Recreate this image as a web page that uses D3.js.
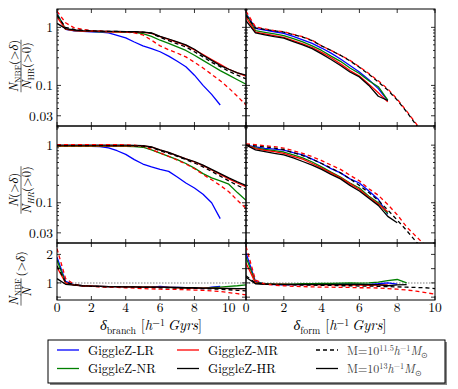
<!DOCTYPE html>
<html>
<head>
<meta charset="utf-8">
<script src="https://cdn.jsdelivr.net/npm/d3@7/dist/d3.min.js"></script>
<style>
  body { margin: 0; background: #fff; }
</style>
</head>
<body>
<div id="chart"></div>
<script>
// ---- data ----
const branchGrid = d3.range(0, 11.01, 0.5);   // delta_branch, 0..11
const formGrid = d3.range(0, 10.01, 0.5);     // delta_form, 0..10

const xTicks = [0, 2, 4, 6, 8, 10];
const logTickLabels = [1, 0.1, 0.03];
const ratioTickLabels = [1, 2];

// N_NBF(>delta) / N_HR(>0), branch
const nbfBranch = {
  LR:   [1.75, 0.92, 0.87, 0.85, 0.84, 0.83, 0.80, 0.73, 0.66, 0.56, 0.48, 0.43, 0.38, 0.32, 0.26, 0.21, 0.15, 0.10, 0.07, 0.046],
  NR:   [1.7, 0.93, 0.88, 0.86, 0.85, 0.84, 0.84, 0.83, 0.83, 0.82, 0.78, 0.70, 0.60, 0.53, 0.46, 0.40, 0.33, 0.27, 0.22, 0.18, 0.15, 0.125, 0.105],
  MR:   [1.5, 0.93, 0.88, 0.86, 0.85, 0.85, 0.84, 0.84, 0.84, 0.83, 0.82, 0.79, 0.69, 0.62, 0.55, 0.49, 0.41, 0.34, 0.28, 0.23, 0.19, 0.165, 0.145],
  HR:   [1.17, 0.95, 0.90, 0.88, 0.87, 0.86, 0.85, 0.85, 0.84, 0.84, 0.83, 0.80, 0.70, 0.63, 0.56, 0.50, 0.42, 0.33, 0.27, 0.22, 0.19, 0.165, 0.15],
  MR_d: [1.9, 1.2, 0.98, 0.92, 0.88, 0.86, 0.85, 0.84, 0.83, 0.80, 0.74, 0.60, 0.48, 0.41, 0.36, 0.31, 0.25, 0.20, 0.155, 0.12, 0.09, 0.065, 0.046],
  HR_d: [1.6, 1.0, 0.92, 0.89, 0.87, 0.86, 0.85, 0.85, 0.84, 0.84, 0.83, 0.79, 0.67, 0.59, 0.52, 0.46, 0.38, 0.31, 0.25, 0.21, 0.175, 0.15, 0.13]
};

// N_NBF(>delta) / N_HR(>0), formation
const nbfForm = {
  LR:   [1.74, 0.96, 0.90, 0.84, 0.79, 0.70, 0.61, 0.53, 0.44, 0.36, 0.285, 0.22, 0.17, 0.125, 0.088, 0.055],
  NR:   [1.7, 0.88, 0.82, 0.77, 0.72, 0.64, 0.56, 0.48, 0.40, 0.32, 0.26, 0.20, 0.16, 0.12, 0.095, 0.056],
  MR:   [1.5, 0.83, 0.77, 0.72, 0.67, 0.59, 0.52, 0.45, 0.37, 0.30, 0.235, 0.18, 0.145, 0.105, 0.075, 0.052],
  HR:   [1.3, 0.80, 0.74, 0.69, 0.65, 0.57, 0.50, 0.43, 0.35, 0.28, 0.22, 0.17, 0.14, 0.10, 0.065, 0.055],
  MR_d: [1.9, 1.02, 0.94, 0.88, 0.84, 0.76, 0.69, 0.60, 0.48, 0.40, 0.33, 0.27, 0.21, 0.16, 0.12, 0.087, 0.058, 0.036, 0.022, 0.013],
  HR_d: [1.6, 0.98, 0.92, 0.87, 0.83, 0.75, 0.68, 0.59, 0.48, 0.40, 0.33, 0.265, 0.205, 0.155, 0.115, 0.083, 0.056, 0.035, 0.021, 0.013]
};

// N(>delta) / N_HR(>0), branch
const allBranch = {
  LR:   [0.95, 0.95, 0.95, 0.95, 0.95, 0.94, 0.90, 0.80, 0.69, 0.56, 0.47, 0.42, 0.38, 0.35, 0.28, 0.22, 0.18, 0.14, 0.10, 0.053],
  NR:   [0.95, 0.95, 0.95, 0.95, 0.95, 0.95, 0.95, 0.95, 0.95, 0.94, 0.92, 0.83, 0.73, 0.64, 0.56, 0.48, 0.40, 0.32, 0.27, 0.24, 0.21, 0.15, 0.11],
  MR:   [0.97, 0.97, 0.97, 0.97, 0.97, 0.97, 0.97, 0.97, 0.97, 0.97, 0.97, 0.92, 0.82, 0.74, 0.65, 0.58, 0.51, 0.44, 0.37, 0.31, 0.26, 0.22, 0.19],
  HR:   [1.0, 1.0, 1.0, 1.0, 1.0, 1.0, 1.0, 1.0, 1.0, 0.99, 0.98, 0.93, 0.83, 0.75, 0.66, 0.58, 0.52, 0.45, 0.38, 0.32, 0.27, 0.23, 0.20],
  MR_d: [1.02, 1.02, 1.02, 1.02, 1.02, 1.02, 1.02, 1.02, 1.01, 1.0, 0.95, 0.84, 0.73, 0.64, 0.55, 0.47, 0.39, 0.31, 0.25, 0.20, 0.155, 0.11, 0.08],
  HR_d: [0.98, 0.98, 0.98, 0.98, 0.98, 0.98, 0.98, 0.98, 0.98, 0.97, 0.96, 0.91, 0.80, 0.72, 0.64, 0.56, 0.49, 0.42, 0.35, 0.29, 0.24, 0.20, 0.17]
};

// N(>delta) / N_HR(>0), formation
const allForm = {
  LR:   [1.0, 0.93, 0.88, 0.85, 0.82, 0.74, 0.68, 0.57, 0.48, 0.39, 0.33, 0.26, 0.22, 0.16, 0.115, 0.063],
  NR:   [1.0, 0.90, 0.84, 0.80, 0.76, 0.68, 0.60, 0.51, 0.42, 0.34, 0.28, 0.22, 0.18, 0.13, 0.10, 0.065],
  MR:   [1.0, 0.87, 0.81, 0.77, 0.72, 0.64, 0.57, 0.48, 0.40, 0.33, 0.27, 0.215, 0.17, 0.125, 0.095, 0.07],
  HR:   [1.0, 0.83, 0.77, 0.72, 0.68, 0.60, 0.52, 0.45, 0.38, 0.31, 0.26, 0.20, 0.16, 0.12, 0.09, 0.058, 0.045],
  MR_d: [1.05, 1.02, 0.98, 0.94, 0.89, 0.80, 0.72, 0.63, 0.54, 0.45, 0.38, 0.30, 0.24, 0.175, 0.135, 0.093, 0.062, 0.038, 0.026, 0.018],
  HR_d: [1.0, 0.97, 0.93, 0.89, 0.84, 0.74, 0.66, 0.57, 0.48, 0.40, 0.33, 0.26, 0.20, 0.15, 0.11, 0.075, 0.05, 0.033, 0.021, 0.014]
};

// N_NBF / N (>delta), branch
const ratioBranch = {
  LR:   [1.9, 1.05, 0.93, 0.90, 0.89, 0.88, 0.87, 0.87, 0.86, 0.86, 0.85, 0.85, 0.88, 0.85, 0.84, 0.83, 0.82, 0.80, 0.85, 0.88],
  NR:   [1.8, 1.0, 0.93, 0.90, 0.89, 0.88, 0.87, 0.87, 0.86, 0.86, 0.85, 0.85, 0.84, 0.84, 0.83, 0.83, 0.82, 0.82, 0.83, 0.85, 0.88, 0.90, 0.93],
  MR:   [1.55, 1.0, 0.92, 0.90, 0.89, 0.88, 0.87, 0.87, 0.86, 0.86, 0.85, 0.85, 0.84, 0.84, 0.83, 0.83, 0.82, 0.82, 0.81, 0.81, 0.80, 0.80, 0.80],
  HR:   [1.15, 0.95, 0.92, 0.90, 0.89, 0.88, 0.87, 0.87, 0.86, 0.86, 0.85, 0.85, 0.85, 0.84, 0.84, 0.83, 0.83, 0.82, 0.82, 0.81, 0.81, 0.80, 0.80],
  MR_d: [2.2, 1.15, 0.95, 0.90, 0.88, 0.86, 0.85, 0.84, 0.83, 0.82, 0.80, 0.79, 0.78, 0.77, 0.77, 0.76, 0.75, 0.74, 0.72, 0.70, 0.66, 0.62, 0.58],
  HR_d: [1.6, 1.02, 0.94, 0.90, 0.88, 0.87, 0.86, 0.86, 0.85, 0.85, 0.84, 0.84, 0.83, 0.83, 0.82, 0.82, 0.81, 0.80, 0.79, 0.78, 0.76, 0.74, 0.72]
};

// N_NBF / N (>delta), formation
const ratioForm = {
  LR:   [2.05, 1.05, 0.96, 0.94, 0.93, 0.94, 0.94, 0.95, 0.95, 0.95, 0.96, 0.96, 0.95, 0.95, 0.97, 1.0, 0.96],
  NR:   [1.9, 1.02, 0.97, 0.96, 0.96, 0.96, 0.97, 0.97, 0.98, 0.98, 0.99, 1.0, 0.99, 1.0, 1.03, 1.08, 1.12, 1.0],
  MR:   [1.7, 1.0, 0.96, 0.95, 0.95, 0.94, 0.94, 0.93, 0.93, 0.93, 0.92, 0.92, 0.92, 0.91, 0.92, 0.93],
  HR:   [1.2, 0.97, 0.95, 0.95, 0.95, 0.95, 0.95, 0.95, 0.95, 0.95, 0.95, 0.95, 0.95, 0.94, 0.94, 0.90, 0.93, 0.94],
  MR_d: [2.28, 1.1, 0.96, 0.92, 0.90, 0.88, 0.87, 0.86, 0.85, 0.85, 0.84, 0.84, 0.83, 0.83, 0.82, 0.80, 0.78, 0.75, 0.71, 0.66, 0.60],
  HR_d: [1.25, 1.0, 0.96, 0.95, 0.94, 0.93, 0.92, 0.92, 0.91, 0.91, 0.90, 0.90, 0.89, 0.89, 0.88, 0.87, 0.86, 0.85, 0.84, 0.83, 0.80]
};

const SERIES = [
  { key: "LR", color: "#0000ff", dash: null },
  { key: "NR", color: "#008000", dash: null },
  { key: "MR", color: "#ff0000", dash: null },
  { key: "HR", color: "#000000", dash: null },
  { key: "MR_d", color: "#ff0000", dash: "4,3" },
  { key: "HR_d", color: "#000000", dash: "4,3" }
];

// ---- layout ----
const W = 458, H = 389;
const FONT = "'Latin Modern Roman', 'Liberation Serif', serif";
const cols = [
  { x0: 57, x1: 246, domain: [0, 11], grid: branchGrid },
  { x0: 246, x1: 435, domain: [0, 10], grid: formGrid }
];
const rows = [
  { y0: 9, y1: 126, type: "log", domain: [0.02, 2.07], data: [nbfBranch, nbfForm] },
  { y0: 126, y1: 243, type: "log", domain: [0.02, 2.15], data: [allBranch, allForm] },
  { y0: 243, y1: 300, type: "lin", domain: [0.4, 2.4], data: [ratioBranch, ratioForm] }
];

const svg = d3.select("#chart").append("svg")
  .attr("width", W)
  .attr("height", H)
  .attr("viewBox", `0 0 ${W} ${H}`);

const defs = svg.append("defs");
const FS = 13.5;

rows.forEach((row, ri) => {
  cols.forEach((col, ci) => {
    const x = d3.scaleLinear().domain(col.domain).range([col.x0, col.x1]);
    const y = (row.type === "log" ? d3.scaleLog() : d3.scaleLinear())
      .domain(row.domain).range([row.y1, row.y0]);

    const clipId = `clip-${ri}-${ci}`;
    defs.append("clipPath").attr("id", clipId)
      .append("rect")
      .attr("x", col.x0).attr("y", row.y0)
      .attr("width", col.x1 - col.x0).attr("height", row.y1 - row.y0);

    const g = svg.append("g");
    const plot = g.append("g").attr("clip-path", `url(#${clipId})`);

    if (row.type === "lin") {
      plot.append("line")
        .attr("x1", col.x0).attr("x2", col.x1)
        .attr("y1", y(1)).attr("y2", y(1))
        .attr("stroke", "#aaa")
        .attr("stroke-width", 1.5)
        .attr("stroke-dasharray", "1.5,1.5");
    }

    const line = d3.line()
      .x((d, i) => x(col.grid[i]))
      .y(d => y(d));

    SERIES.forEach(s => {
      plot.append("path")
        .attr("d", line(row.data[ci][s.key]))
        .attr("fill", "none")
        .attr("stroke", s.color)
        .attr("stroke-width", 1.3)
        .attr("stroke-dasharray", s.dash)
        .attr("stroke-linejoin", "round");
    });

    // ticks (inward, all four sides)
    const tk = g.append("g").attr("stroke", "#000").attr("stroke-width", 0.8);
    xTicks.forEach(t => {
      if (t > col.domain[1]) return;
      tk.append("line").attr("x1", x(t)).attr("x2", x(t)).attr("y1", row.y1).attr("y2", row.y1 - 4);
      tk.append("line").attr("x1", x(t)).attr("x2", x(t)).attr("y1", row.y0).attr("y2", row.y0 + 4);
    });
    let yTicks;
    if (row.type === "log") {
      yTicks = [];
      [0.01, 0.1, 1].forEach(dec => d3.range(1, 10).forEach(m => {
        const v = +(dec * m).toPrecision(3);
        if (v >= row.domain[0] && v <= row.domain[1]) {
          yTicks.push({ v, major: logTickLabels.includes(v) });
        }
      }));
    } else {
      yTicks = [0.5, 1, 1.5, 2].map(v => ({ v, major: true }));
    }
    yTicks.forEach(t => {
      const len = t.major ? 4 : 2;
      tk.append("line").attr("x1", col.x0).attr("x2", col.x0 + len).attr("y1", y(t.v)).attr("y2", y(t.v));
      tk.append("line").attr("x1", col.x1).attr("x2", col.x1 - len).attr("y1", y(t.v)).attr("y2", y(t.v));
    });

    g.append("rect")
      .attr("x", col.x0).attr("y", row.y0)
      .attr("width", col.x1 - col.x0).attr("height", row.y1 - row.y0)
      .attr("fill", "none")
      .attr("stroke", "#000")
      .attr("stroke-width", 1);

    // tick labels
    if (ci === 0) {
      const labs = row.type === "log" ? logTickLabels : ratioTickLabels;
      labs.forEach(v => {
        g.append("text")
          .attr("x", col.x0 - 4)
          .attr("y", y(v))
          .attr("dy", "0.35em")
          .attr("text-anchor", "end")
          .attr("font-size", FS)
          .text(v);
      });
    }
    if (ri === 2) {
      xTicks.forEach(t => {
        g.append("text")
          .attr("x", x(t))
          .attr("y", row.y1 + 11.5)
          .attr("text-anchor", "middle")
          .attr("font-size", FS)
          .text(t);
      });
    }
  });
});

// ---- rich text helper ----
function rich(text, parts, size) {
  let shift = 0;
  text.style("font-family", FONT);
  parts.forEach(p => {
    const target = p.sub ? size * 0.25 : p.sup ? -size * 0.3 : 0;
    text.append("tspan")
      .attr("dy", target - shift)
      .attr("font-size", (p.sub || p.sup) ? size * 0.68 : size)
      .attr("font-style", p.i ? "italic" : "normal")
      .style("font-family", FONT)
      .text(p.t);
    shift = target;
  });
  return text;
}

function fraction(g, num, den, size) {
  const n = rich(g.append("text").attr("x", 0).attr("y", -3.5).attr("text-anchor", "middle"), num, size);
  const d = rich(g.append("text").attr("x", 0).attr("y", 9.5).attr("text-anchor", "middle"), den, size);
  const w = Math.max(n.node().getComputedTextLength(), d.node().getComputedTextLength());
  g.append("line")
    .attr("x1", -w / 2).attr("x2", w / 2)
    .attr("y1", 0).attr("y2", 0)
    .attr("stroke", "#222").attr("stroke-width", 0.7);
  return w;
}

const gtDelta = [{ t: "(>" }, { t: "δ", i: true }, { t: ")" }];
const gtZero = [{ t: "(>0)" }];

// y labels
const yl1 = svg.append("g").attr("transform", "translate(21,66) rotate(-90)");
fraction(yl1, [{ t: "N", i: true }, { t: "NBF", sub: true }, ...gtDelta],
  [{ t: "N", i: true }, { t: "HR", sub: true }, ...gtZero], 12.5);

const yl2 = svg.append("g").attr("transform", "translate(21,190) rotate(-90)");
fraction(yl2, [{ t: "N", i: true }, ...gtDelta],
  [{ t: "N", i: true }, { t: "HR", sub: true, i: true }, ...gtZero], 12.5);

const yl3 = svg.append("g").attr("transform", "translate(21,292) rotate(-90)");
const w3 = fraction(yl3, [{ t: "N", i: true }, { t: "NBF", sub: true }], [{ t: "N", i: true }], 12.5);
rich(yl3.append("text").attr("x", w3 / 2 + 2).attr("y", 4), gtDelta, 12.5);

// x labels
rich(svg.append("text").attr("x", 151).attr("y", 330).attr("text-anchor", "middle"),
  [{ t: "δ", i: true }, { t: "branch", sub: true }, { t: " [" }, { t: "h", i: true }, { t: "−1", sup: true },
   { t: "\u2009Gyrs", i: true }, { t: "]" }], 14.5);
rich(svg.append("text").attr("x", 340).attr("y", 330).attr("text-anchor", "middle"),
  [{ t: "δ", i: true }, { t: "form", sub: true }, { t: " [" }, { t: "h", i: true }, { t: "−1", sup: true },
   { t: "\u2009Gyrs", i: true }, { t: "]" }], 14.5);

// ---- legend ----
const leg = svg.append("g");
leg.append("rect").attr("x", 50).attr("y", 342).attr("width", 397).attr("height", 43).attr("fill", "#888");
leg.append("rect").attr("x", 48).attr("y", 340).attr("width", 397).attr("height", 43)
  .attr("fill", "#fff").attr("stroke", "#000").attr("stroke-width", 1);

const legendItems = [
  { color: "#0000ff", dash: null, x: 57, row: 0, parts: [{ t: "GiggleZ-LR" }] },
  { color: "#008000", dash: null, x: 57, row: 1, parts: [{ t: "GiggleZ-NR" }] },
  { color: "#ff0000", dash: null, x: 177, row: 0, parts: [{ t: "GiggleZ-MR" }] },
  { color: "#000000", dash: null, x: 177, row: 1, parts: [{ t: "GiggleZ-HR" }] },
  { color: "#000000", dash: "4,3", x: 316, row: 0, gray: true,
    parts: [{ t: "M=10" }, { t: "11.5", sup: true }, { t: "h", i: true }, { t: "−1", sup: true }, { t: "M", i: true }, { t: "⊙", sub: true }] },
  { color: "#000000", dash: null, x: 316, row: 1, gray: true,
    parts: [{ t: "M=10" }, { t: "13", sup: true }, { t: "h", i: true }, { t: "−1", sup: true }, { t: "M", i: true }, { t: "⊙", sub: true }] }
];
legendItems.forEach(d => {
  const cy = 350 + d.row * 18.5;
  leg.append("line")
    .attr("x1", d.x).attr("x2", d.x + 22)
    .attr("y1", cy).attr("y2", cy)
    .attr("stroke", d.color).attr("stroke-width", 1.3)
    .attr("stroke-dasharray", d.dash);
  const t = leg.append("text").attr("x", d.x + 31).attr("y", cy + 4.5);
  if (d.gray) t.style("fill", "#444");
  rich(t, d.parts, d.gray ? 12 : 13);
});

// font set on every text element directly
svg.selectAll("text, tspan").style("font-family", FONT);
</script>
</body>
</html>
